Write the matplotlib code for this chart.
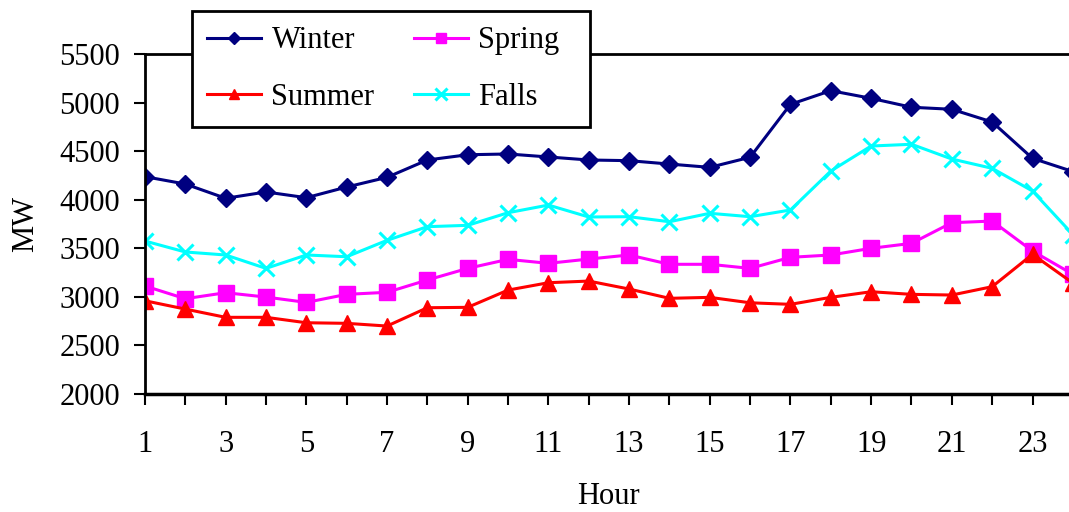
import matplotlib

matplotlib.use("Agg")
import matplotlib.pyplot as plt
import numpy as np

hours = np.arange(1, 25)

winter = [4237, 4161, 4014, 4079, 4020, 4130, 4230, 4409, 4463, 4471, 4440, 4409,
          4402, 4367, 4333, 4437, 4983, 5124, 5045, 4953, 4932, 4801, 4426, 4290]
spring = [3109, 2978, 3040, 2995, 2940, 3023, 3044, 3171, 3291, 3384, 3343, 3387,
          3429, 3333, 3333, 3291, 3405, 3429, 3498, 3549, 3762, 3779, 3470, 3230]
summer = [2957, 2871, 2786, 2786, 2730, 2724, 2696, 2885, 2889, 3067, 3143, 3160,
          3078, 2982, 2992, 2936, 2920, 2992, 3050, 3023, 3016, 3102, 3436, 3140]
falls = [3573, 3460, 3429, 3291, 3429, 3411, 3580, 3721, 3735, 3865, 3944, 3821,
         3824, 3772, 3859, 3824, 3893, 4295, 4553, 4571, 4419, 4323, 4089, 3640]

y_ticks = [2000, 2500, 3000, 3500, 4000, 4500, 5000, 5500]
x_labels = [1, 3, 5, 7, 9, 11, 13, 15, 17, 19, 21, 23]

plt.rcParams["font.family"] = ["Liberation Serif", "DejaVu Serif"]
plt.rcParams["font.size"] = 22

fig = plt.figure(figsize=(10.69, 5.12), dpi=100)
# right edge of the axes runs past the figure, so hour 24 is cut off
ax = fig.add_axes([0.1356, 0.2314, 0.868, 0.6627])

lw = 2.2
l_w, = ax.plot(hours, winter, color="#000080", marker="D", markersize=9, lw=lw, label="Winter")
l_sp, = ax.plot(hours, spring, color="#FF00FF", marker="s", markersize=11, lw=lw, label="Spring")
l_su, = ax.plot(hours, summer, color="#FF0000", marker="^", markersize=11, lw=lw, label="Summer")
l_f, = ax.plot(hours, falls, color="#00FFFF", marker="x", markersize=12, mew=2.2, lw=lw, label="Falls")

ax.set_xlim(1, 24)
ax.set_ylim(2000, 5500)
ax.set_yticks(y_ticks)
ax.set_xticks(hours)
ax.set_xticklabels([str(h) if h in x_labels else "" for h in hours])
ax.tick_params(axis="both", direction="out", length=8, width=1.5, colors="black")
ax.tick_params(axis="x", pad=18)
ax.tick_params(axis="y", pad=10)

ax.spines["right"].set_visible(False)
ax.spines["top"].set_linewidth(2)
ax.spines["left"].set_linewidth(2)
ax.spines["bottom"].set_linewidth(2.5)

ax.set_xlabel("Hour", labelpad=17)
ax.set_ylabel("MW", labelpad=14)

# row-wise order: Winter, Spring / Summer, Falls
leg = fig.legend([l_w, l_su, l_sp, l_f], ["Winter", "Summer", "Spring  ", "Falls"],
                 loc="upper left", bbox_to_anchor=(192 / 1069, 1 - 11 / 512),
                 ncol=2, frameon=True, fancybox=False, edgecolor="black",
                 framealpha=1, markerscale=0.7,
                 handlelength=1.75, columnspacing=1.3, labelspacing=0.9,
                 handletextpad=0.35, borderpad=0.5, borderaxespad=0)
leg.get_frame().set_linewidth(2)

fig.savefig("out.png", dpi=100)
